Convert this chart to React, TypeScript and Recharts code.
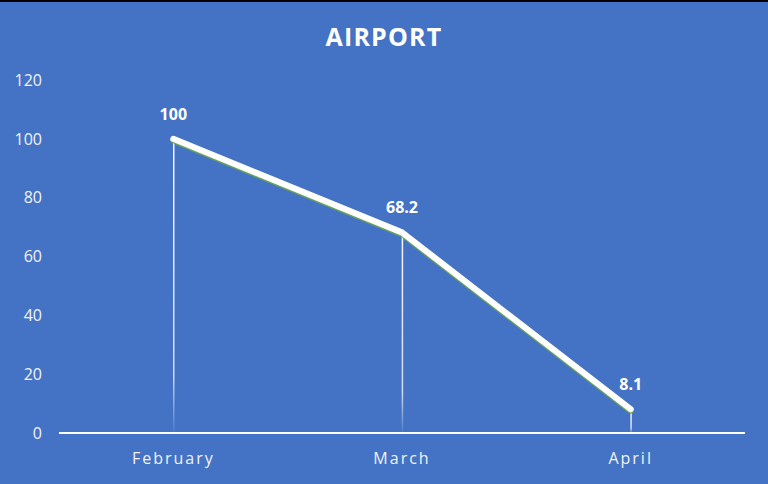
import { ComposedChart, Line, Bar, XAxis, YAxis, LabelList } from 'recharts';

const months = ['February', 'March', 'April'];
const airport = [100, 68.2, 8.1];
const yTicks = [0, 20, 40, 60, 80, 100, 120];

const data = months.map((month, i) => ({ month, value: airport[i] }));

const BG = '#4472C4';

export default function App() {
  return (
    <div style={{ position: 'absolute', left: 0, top: 0, width: 768, height: 484, background: '#000' }}>
      <div style={{ position: 'absolute', left: 0, top: 2, width: 768, height: 482, background: BG }}>
        {/* Title */}
        <div
          style={{
            position: 'absolute',
            top: 17,
            width: 768,
            textAlign: 'center',
            color: '#fff',
            fontFamily: 'Open Sans, sans-serif',
            fontWeight: 700,
            fontSize: 25,
            letterSpacing: 1.2,
          }}
        >
          AIRPORT
        </div>
      </div>
      <div style={{ position: 'absolute', left: 0, top: 0 }}>
        <ComposedChart
          width={768}
          height={484}
          data={data}
          margin={{ top: 80, right: 23, bottom: 21, left: 0 }}
        >
          <defs>
            <linearGradient id="dropFade" x1="0" y1="0" x2="0" y2="1">
              <stop offset="0%" stopColor="#fff" stopOpacity={0.95} />
              <stop offset="80%" stopColor="#fff" stopOpacity={0.75} />
              <stop offset="100%" stopColor="#fff" stopOpacity={0.05} />
            </linearGradient>
            <filter id="greenShadow" x="-10%" y="-10%" width="120%" height="130%">
              <feDropShadow dx="0" dy="1.5" stdDeviation="0.3" floodColor="#70AD47" floodOpacity={1} />
            </filter>
          </defs>
          <XAxis
            dataKey="month"
            height={30}
            axisLine={{ stroke: '#fff', strokeWidth: 2 }}
            tickLine={false}
            tickSize={0}
            tickMargin={20}
            tick={{ fill: '#F2F2F2', fontSize: 16, letterSpacing: 2, fontFamily: 'Open Sans, sans-serif' }}
          />
          <YAxis
            width={59}
            domain={[0, 120]}
            ticks={yTicks}
            axisLine={false}
            tickLine={false}
            tickSize={0}
            tickMargin={17}
            tick={{ fill: '#F2F2F2', fontSize: 16, fontFamily: 'Open Sans, sans-serif' }}
          />
          <Bar dataKey="value" barSize={1.5} fill="url(#dropFade)" isAnimationActive={false} />
          <Line
            dataKey="value"
            type="linear"
            stroke="#fff"
            strokeWidth={6}
            strokeLinecap="round"
            strokeLinejoin="round"
            filter="url(#greenShadow)"
            dot={false}
            activeDot={false}
            isAnimationActive={false}
          >
            <LabelList
              dataKey="value"
              position="top"
              offset={19}
              fill="#fff"
              fontSize={16}
              fontWeight={700}
              fontFamily="Open Sans, sans-serif"
            />
          </Line>
        </ComposedChart>
      </div>
    </div>
  );
}
